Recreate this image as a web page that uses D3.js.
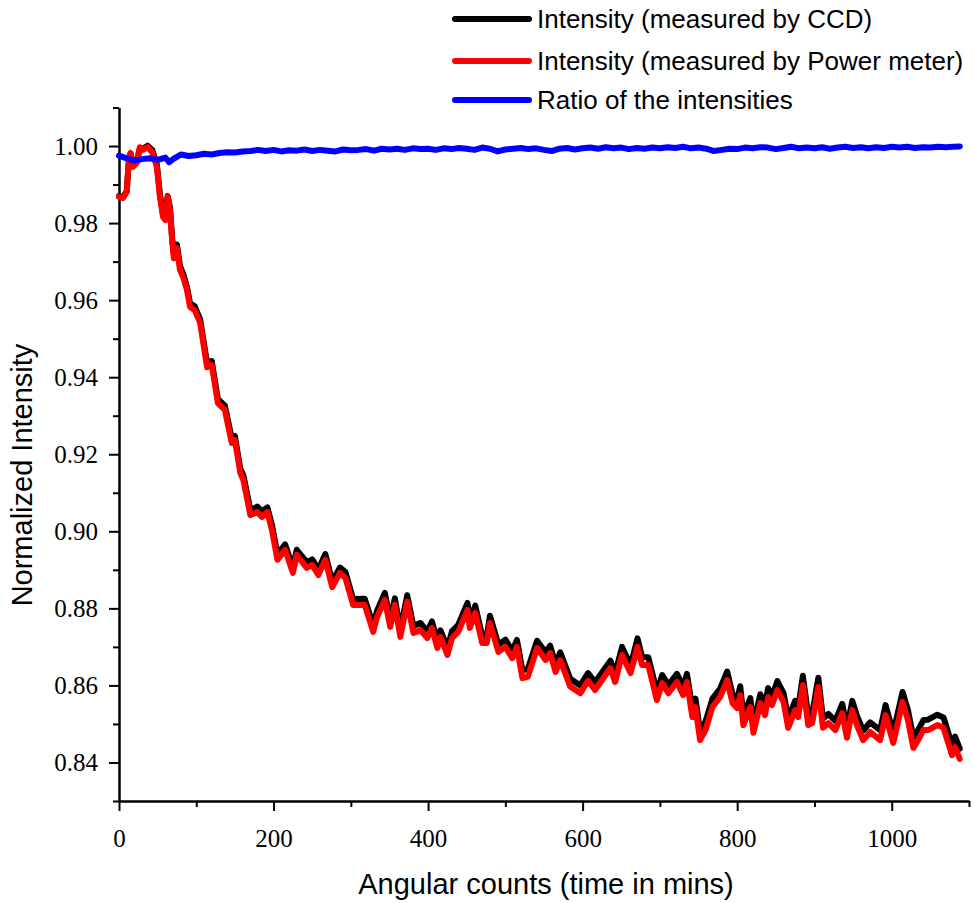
<!DOCTYPE html>
<html>
<head>
<meta charset="utf-8">
<script src="https://cdnjs.cloudflare.com/ajax/libs/d3/7.8.5/d3.min.js"></script>
<style>
    body { margin: 0; background: #fff; }
    .domain, .tick line { stroke: #000; stroke-width: 2px; }
    .label { font-family: "Liberation Sans", Arial, sans-serif; font-size: 29px; fill: #000; }
    .legend-text { font-family: "Liberation Sans", Arial, sans-serif; font-size: 26px; fill: #000; }
</style>
</head>
<body>
<svg id="chart" width="974" height="903"></svg>
<script>
// time (mins) for the two intensity curves
let tIntensity = [0, 5, 10, 13, 15, 18, 23, 27, 31, 37, 43, 49, 53, 57, 60, 63, 66, 69, 71, 75,
    79, 83, 88, 92, 98, 105, 114, 120, 128, 137, 146, 150, 157, 161, 170, 179, 185, 192, 198, 205,
    215, 225, 230, 243, 250, 258, 267, 276, 286, 293, 303, 318, 329, 334, 344, 351, 357, 364, 373, 381,
    390, 399, 405, 412, 416, 425, 431, 439, 451, 454, 461, 470, 476, 480, 491, 500, 509, 515, 522, 529,
    541, 552, 558, 565, 571, 584, 597, 607, 616, 636, 642, 651, 662, 671, 677, 685, 696, 703, 711, 722,
    730, 735, 742, 746, 752, 759, 768, 778, 787, 794, 800, 804, 808, 817, 821, 830, 836, 840, 845, 852,
    860, 866, 875, 879, 885, 892, 897, 905, 911, 918, 927, 936, 942, 949, 955, 963, 972, 985, 992, 1002,
    1014, 1021, 1028, 1034, 1041, 1047, 1059, 1067, 1078, 1082, 1088]

// intensity measured by CCD
let ccdValues = [0.9870, 0.9867, 0.9882, 0.9970, 0.9980, 0.9950, 0.9960, 0.9994, 0.9993, 1.0001,
    0.9990, 0.9952, 0.9875, 0.9822, 0.9814, 0.9870, 0.9840, 0.9756, 0.9720, 0.9744,
    0.9688, 0.9668, 0.9634, 0.9592, 0.9584, 0.9550, 0.9436, 0.9442, 0.9343, 0.9326,
    0.9240, 0.9247, 0.9162, 0.9145, 0.9055, 0.9064, 0.9052, 0.9062, 0.9016, 0.8940,
    0.8966, 0.8906, 0.8952, 0.8920, 0.8927, 0.8901, 0.8941, 0.8870, 0.8906, 0.8894,
    0.8824, 0.8825, 0.8756, 0.8794, 0.8840, 0.8770, 0.8826, 0.8744, 0.8834, 0.8754,
    0.8762, 0.8740, 0.8766, 0.8715, 0.8743, 0.8697, 0.8741, 0.8757, 0.8814, 0.8768,
    0.8807, 0.8729, 0.8728, 0.8781, 0.8706, 0.8719, 0.8690, 0.8718, 0.8640, 0.8642,
    0.8716, 0.8686, 0.8703, 0.8655, 0.8686, 0.8617, 0.8600, 0.8632, 0.8608, 0.8664,
    0.8630, 0.8700, 0.8652, 0.8722, 0.8674, 0.8673, 0.8584, 0.8627, 0.8601, 0.8630,
    0.8597, 0.8630, 0.8540, 0.8566, 0.8480, 0.8506, 0.8566, 0.8592, 0.8636, 0.8577,
    0.8564, 0.8598, 0.8520, 0.8567, 0.8500, 0.8577, 0.8546, 0.8593, 0.8572, 0.8611,
    0.8580, 0.8514, 0.8560, 0.8542, 0.8625, 0.8521, 0.8526, 0.8620, 0.8514, 0.8526,
    0.8508, 0.8552, 0.8488, 0.8560, 0.8521, 0.8483, 0.8504, 0.8484, 0.8549, 0.8477,
    0.8583, 0.8536, 0.8464, 0.8484, 0.8510, 0.8511, 0.8524, 0.8517, 0.8446, 0.8467, 0.8436]

// intensity measured by power meter
let powerValues = [0.9868, 0.9865, 0.9881, 0.9972, 0.9982, 0.9946, 0.9956, 0.9997, 0.9990, 0.9997,
    0.9984, 0.9946, 0.9868, 0.9816, 0.9808, 0.9868, 0.9834, 0.9748, 0.9709, 0.9735,
    0.9678, 0.9660, 0.9626, 0.9582, 0.9574, 0.9541, 0.9426, 0.9432, 0.9333, 0.9315,
    0.9229, 0.9237, 0.9151, 0.9133, 0.9042, 0.9050, 0.9037, 0.9050, 0.9003, 0.8926,
    0.8952, 0.8892, 0.8939, 0.8905, 0.8913, 0.8887, 0.8926, 0.8855, 0.8892, 0.8879,
    0.8809, 0.8809, 0.8739, 0.8778, 0.8822, 0.8752, 0.8809, 0.8726, 0.8817, 0.8736,
    0.8744, 0.8723, 0.8749, 0.8697, 0.8726, 0.8679, 0.8723, 0.8739, 0.8796, 0.8749,
    0.8788, 0.8710, 0.8710, 0.8762, 0.8687, 0.8700, 0.8671, 0.8700, 0.8619, 0.8622,
    0.8697, 0.8666, 0.8684, 0.8635, 0.8666, 0.8597, 0.8580, 0.8612, 0.8588, 0.8645,
    0.8609, 0.8679, 0.8632, 0.8700, 0.8653, 0.8653, 0.8562, 0.8606, 0.8580, 0.8609,
    0.8575, 0.8609, 0.8518, 0.8544, 0.8458, 0.8484, 0.8544, 0.8570, 0.8614, 0.8554,
    0.8541, 0.8575, 0.8497, 0.8544, 0.8477, 0.8554, 0.8523, 0.8570, 0.8549, 0.8588,
    0.8557, 0.8490, 0.8536, 0.8518, 0.8601, 0.8497, 0.8502, 0.8596, 0.8490, 0.8502,
    0.8484, 0.8528, 0.8464, 0.8536, 0.8497, 0.8458, 0.8479, 0.8458, 0.8523, 0.8451,
    0.8557, 0.8510, 0.8438, 0.8458, 0.8484, 0.8484, 0.8497, 0.8490, 0.8419, 0.8440, 0.8409]

// time (mins) and ratio of the intensities
let tRatio = [0, 10, 20, 30, 40, 50, 60, 65, 70, 80, 90, 100, 110, 120, 130, 140, 150, 160, 170, 180,
    190, 200, 210, 220, 230, 240, 250, 260, 270, 280, 290, 300, 310, 320, 330, 340, 350, 360, 370, 380,
    390, 400, 410, 420, 430, 440, 450, 460, 470, 480, 490, 500, 510, 520, 530, 540, 550, 560, 570, 580,
    590, 600, 610, 620, 630, 640, 650, 660, 670, 680, 690, 700, 710, 720, 730, 740, 750, 760, 770, 780,
    790, 800, 810, 820, 830, 840, 850, 860, 870, 880, 890, 900, 910, 920, 930, 940, 950, 960, 970, 980,
    990, 1000, 1010, 1020, 1030, 1040, 1050, 1060, 1070, 1080, 1088]

let ratioValues = [0.9975, 0.9968, 0.9962, 0.9966, 0.9968, 0.9964, 0.9970, 0.9958, 0.9966, 0.9978,
    0.9974, 0.9976, 0.9980, 0.9978, 0.9982, 0.9984, 0.9983, 0.9986, 0.9987, 0.9990,
    0.9987, 0.9990, 0.9986, 0.9989, 0.9988, 0.9991, 0.9987, 0.9990, 0.9988, 0.9986,
    0.9991, 0.9989, 0.9990, 0.9992, 0.9988, 0.9993, 0.9991, 0.9993, 0.9990, 0.9994,
    0.9992, 0.9993, 0.9990, 0.9994, 0.9992, 0.9995, 0.9993, 0.9990, 0.9996, 0.9993,
    0.9986, 0.9991, 0.9993, 0.9995, 0.9992, 0.9994, 0.9990, 0.9987, 0.9993, 0.9995,
    0.9991, 0.9994, 0.9996, 0.9993, 0.9997, 0.9994, 0.9996, 0.9992, 0.9995, 0.9993,
    0.9996, 0.9994, 0.9997, 0.9995, 0.9998, 0.9994, 0.9996, 0.9993, 0.9987, 0.9990,
    0.9993, 0.9992, 0.9996, 0.9994, 0.9997, 0.9996, 0.9992, 0.9995, 0.9998, 0.9994,
    0.9996, 0.9994, 0.9997, 0.9993, 0.9996, 0.9998, 0.9995, 0.9997, 0.9994, 0.9997,
    0.9995, 0.9998, 0.9996, 0.9998, 0.9995, 0.9997, 0.9996, 0.9998, 0.9997, 0.9998, 0.9999]

// tick values
let xMajorTicks = [0, 200, 400, 600, 800, 1000]
let xMinorTicks = [100, 300, 500, 700, 900, 1100]
let yMajorTicks = [0.84, 0.86, 0.88, 0.90, 0.92, 0.94, 0.96, 0.98, 1.00]
let yMinorTicks = [0.83, 0.85, 0.87, 0.89, 0.91, 0.93, 0.95, 0.97, 0.99, 1.01]

// legend entries
let legendLabels = ["Intensity (measured by CCD)", "Intensity (measured by Power meter)", "Ratio of the intensities"]
let legendColors = ["#000000", "#ff0000", "#0000ff"]

let svg = d3.select("#chart")

let plotVars = ({
    left: 119,
    right: 969,
    top: 107.5,
    bottom: 801
})

// scales
let xScale = d3.scaleLinear()
    .domain([0, 1100])
    .range([plotVars.left, plotVars.right])

let yScale = d3.scaleLinear()
    .domain([0.83, 1.01])
    .range([plotVars.bottom, plotVars.top])

// minor ticks first
svg.append("g")
    .attr("transform", "translate(0," + plotVars.bottom + ")")
    .call(d3.axisBottom(xScale).tickValues(xMinorTicks).tickSize(6).tickSizeOuter(0).tickFormat(""))
svg.append("g")
    .attr("transform", "translate(" + plotVars.left + ",0)")
    .call(d3.axisLeft(yScale).tickValues(yMinorTicks).tickSize(6).tickSizeOuter(0).tickFormat(""))

// major x axis
svg.append("g")
    .attr("class", "x-axis")
    .attr("transform", "translate(0," + plotVars.bottom + ")")
    .call(d3.axisBottom(xScale).tickValues(xMajorTicks).tickSize(10).tickSizeOuter(0).tickPadding(18)
        .tickFormat(d3.format("d")))

// major y axis
svg.append("g")
    .attr("class", "y-axis")
    .attr("transform", "translate(" + plotVars.left + ",0)")
    .call(d3.axisLeft(yScale).tickValues(yMajorTicks).tickSize(10).tickSizeOuter(0).tickPadding(11)
        .tickFormat(d3.format(".2f")))

// serif tick labels like the original
svg.selectAll(".tick text")
    .style("font-family", "Liberation Serif")
    .style("font-size", "25px")
    .style("fill", "#000")

// line generator
function makeLine(ts) {
    return d3.line()
        .x(function (d, i) { return xScale(ts[i]) })
        .y(function (d) { return yScale(d) })
}

let seriesList = [
    { t: tIntensity, v: ccdValues, color: legendColors[0] },
    { t: tIntensity, v: powerValues, color: legendColors[1] },
    { t: tRatio, v: ratioValues, color: legendColors[2] }
]

seriesList.forEach(function (s) {
    svg.append("path")
        .datum(s.v)
        .attr("d", makeLine(s.t))
        .attr("fill", "none")
        .attr("stroke", s.color)
        .attr("stroke-width", 6)
        .attr("stroke-linejoin", "round")
        .attr("stroke-linecap", "round")
})

// axis labels
svg.append("text")
    .attr("class", "label")
    .attr("x", 546)
    .attr("y", 894)
    .style("text-anchor", "middle")
    .text("Angular counts (time in mins)")

svg.append("text")
    .attr("class", "label")
    .attr("transform", "translate(32,475) rotate(-90)")
    .style("text-anchor", "middle")
    .text("Normalized Intensity")

// legend
let legendY = [19, 61, 100]
let legend = svg.selectAll(".legend")
    .data(legendLabels)
    .enter()
    .append("g")
    .attr("class", "legend")
    .attr("transform", function (d, i) { return "translate(0," + legendY[i] + ")" })

legend.append("line")
    .attr("x1", 455).attr("x2", 529)
    .attr("y1", 0).attr("y2", 0)
    .attr("stroke", function (d, i) { return legendColors[i] })
    .attr("stroke-width", 6)
    .attr("stroke-linecap", "round")

legend.append("text")
    .attr("class", "legend-text")
    .attr("x", 537)
    .attr("y", 0)
    .attr("dy", "0.35em")
    .text(function (d) { return d })
</script>
</body>
</html>
